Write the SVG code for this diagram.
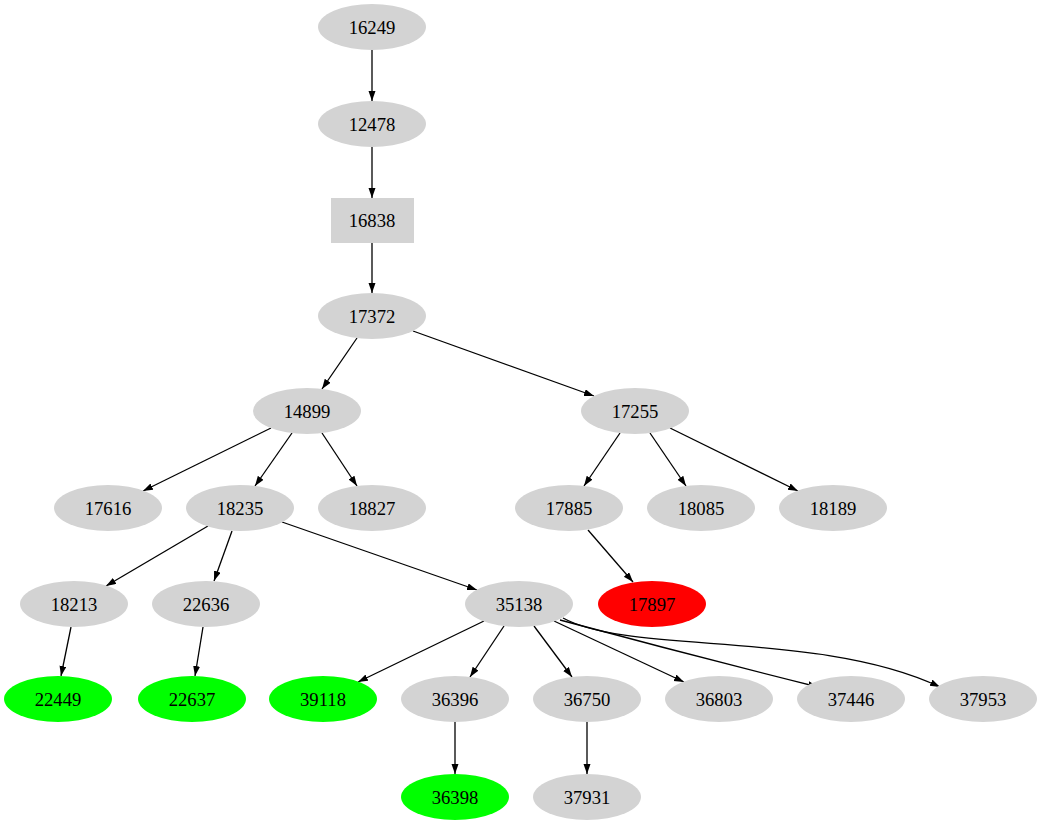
<svg xmlns="http://www.w3.org/2000/svg" width="1042" height="827" viewBox="0 0 1042 827">
<style>
.n{fill:#d3d3d3}.g{fill:#00ff00}.r{fill:#ff0000}
text{font-family:"Liberation Serif",serif;font-size:18.7px;text-anchor:middle;dominant-baseline:central;fill:#000}
.e{stroke:#000;stroke-width:1.3;fill:none;marker-end:url(#a)}
</style>
<defs><marker id="a" markerUnits="userSpaceOnUse" markerWidth="11" markerHeight="8" refX="10" refY="3.5" orient="auto"><path d="M0,0 L10,3.5 L0,7 z" fill="#000"/></marker></defs>
<rect width="1042" height="827" fill="#fff"/>
<g id="edges">
<path class="e" d="M372,50 L372,101"/>
<path class="e" d="M372,147 L372,198"/>
<path class="e" d="M372,243 L372,293"/>
<path class="e" d="M357,338 L322,389"/>
<path class="e" d="M413,331 L594,396"/>
<path class="e" d="M271,428 L143,491"/>
<path class="e" d="M292,433 L255,486"/>
<path class="e" d="M322,433 L357,486"/>
<path class="e" d="M620,433 L584,486"/>
<path class="e" d="M650,433 L686,486"/>
<path class="e" d="M670,428 L798,491"/>
<path class="e" d="M208,526 L106,586"/>
<path class="e" d="M232,531 L214,581"/>
<path class="e" d="M282,522 L477,590"/>
<path class="e" d="M588,530 L633,582"/>
<path class="e" d="M71,627 L61,676"/>
<path class="e" d="M203,627 L195,676"/>
<path class="e" d="M484,621 L358,682"/>
<path class="e" d="M504,626 L470,677"/>
<path class="e" d="M534,626 L572,677"/>
<path class="e" d="M554,621 L684,682"/>
<path class="e" d="M560,620 Q690,655 818,687"/>
<path class="e" d="M563,618 C630,655 820,630 940,687"/>
<path class="e" d="M455,722 L455,774"/>
<path class="e" d="M587,722 L587,774"/>
</g>
<g id="n16249"><ellipse class="n" cx="372" cy="27" rx="54" ry="23"/><text x="372" y="27">16249</text></g>
<g id="n12478"><ellipse class="n" cx="372" cy="124" rx="54" ry="23"/><text x="372" y="124">12478</text></g>
<g id="n16838"><rect class="n" x="331" y="198" width="83" height="45"/><text x="372" y="220">16838</text></g>
<g id="n17372"><ellipse class="n" cx="372" cy="316" rx="54" ry="23"/><text x="372" y="316">17372</text></g>
<g id="n14899"><ellipse class="n" cx="307" cy="411" rx="54" ry="23"/><text x="307" y="411">14899</text></g>
<g id="n17255"><ellipse class="n" cx="635" cy="411" rx="54" ry="23"/><text x="635" y="411">17255</text></g>
<g id="n17616"><ellipse class="n" cx="108" cy="508" rx="54" ry="23"/><text x="108" y="508">17616</text></g>
<g id="n18235"><ellipse class="n" cx="240" cy="508" rx="54" ry="23"/><text x="240" y="508">18235</text></g>
<g id="n18827"><ellipse class="n" cx="372" cy="508" rx="54" ry="23"/><text x="372" y="508">18827</text></g>
<g id="n17885"><ellipse class="n" cx="569" cy="508" rx="54" ry="23"/><text x="569" y="508">17885</text></g>
<g id="n18085"><ellipse class="n" cx="701" cy="508" rx="54" ry="23"/><text x="701" y="508">18085</text></g>
<g id="n18189"><ellipse class="n" cx="833" cy="508" rx="54" ry="23"/><text x="833" y="508">18189</text></g>
<g id="n18213"><ellipse class="n" cx="74" cy="604" rx="54" ry="23"/><text x="74" y="604">18213</text></g>
<g id="n22636"><ellipse class="n" cx="206" cy="604" rx="54" ry="23"/><text x="206" y="604">22636</text></g>
<g id="n35138"><ellipse class="n" cx="519" cy="604" rx="54" ry="23"/><text x="519" y="604">35138</text></g>
<g id="n17897"><ellipse class="r" cx="652" cy="604" rx="54" ry="23"/><text x="652" y="604">17897</text></g>
<g id="n22449"><ellipse class="g" cx="58" cy="699" rx="54" ry="23"/><text x="58" y="699">22449</text></g>
<g id="n22637"><ellipse class="g" cx="192" cy="699" rx="54" ry="23"/><text x="192" y="699">22637</text></g>
<g id="n39118"><ellipse class="g" cx="323" cy="699" rx="54" ry="23"/><text x="323" y="699">39118</text></g>
<g id="n36396"><ellipse class="n" cx="455" cy="699" rx="54" ry="23"/><text x="455" y="699">36396</text></g>
<g id="n36750"><ellipse class="n" cx="587" cy="699" rx="54" ry="23"/><text x="587" y="699">36750</text></g>
<g id="n36803"><ellipse class="n" cx="719" cy="699" rx="54" ry="23"/><text x="719" y="699">36803</text></g>
<g id="n37446"><ellipse class="n" cx="851" cy="699" rx="54" ry="23"/><text x="851" y="699">37446</text></g>
<g id="n37953"><ellipse class="n" cx="983" cy="699" rx="54" ry="23"/><text x="983" y="699">37953</text></g>
<g id="n36398"><ellipse class="g" cx="455" cy="797" rx="54" ry="23"/><text x="455" y="797">36398</text></g>
<g id="n37931"><ellipse class="n" cx="587" cy="797" rx="54" ry="23"/><text x="587" y="797">37931</text></g>
</svg>
